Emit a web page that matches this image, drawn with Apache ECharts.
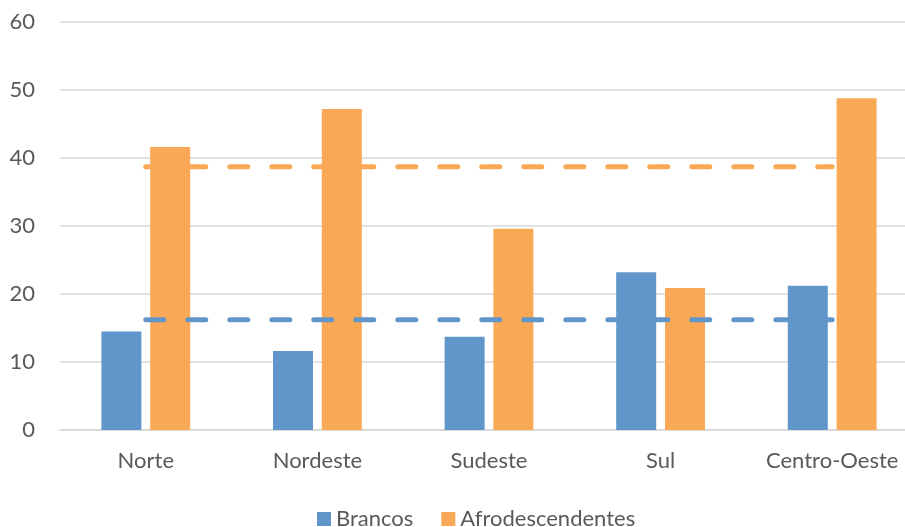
<!DOCTYPE html>
<html>
<head>
<meta charset="utf-8">
<script src="https://cdn.jsdelivr.net/npm/echarts@6/dist/echarts.min.js"></script>
<style>
  html, body { margin: 0; padding: 0; background: #ffffff; }
  #chart { width: 905px; height: 527px; }
</style>
</head>
<body>
<div id="chart"></div>
<script>
// Regions of Brazil
const categories = ['Norte', 'Nordeste', 'Sudeste', 'Sul', 'Centro-Oeste'];
// Percentages per group
const brancos = [14.5, 11.6, 13.7, 23.2, 21.2];
const afrodescendentes = [41.6, 47.2, 29.6, 20.9, 48.8];
// National averages, repeated for each region
const mediaBrancos = [16.2, 16.2, 16.2, 16.2, 16.2];
const mediaAfro = [38.7, 38.7, 38.7, 38.7, 38.7];
// Value axis ticks
const yTicks = [0, 10, 20, 30, 40, 50, 60];

const BLUE = '#6096c9';
const ORANGE = '#f9a856';
const TEXT = '#595959';
const FONT = 'Lato';
const FS = 22;

const chart = echarts.init(document.getElementById('chart'), null, { renderer: 'canvas' });

chart.setOption({
  animation: false,
  textStyle: { fontFamily: FONT },
  grid: {
    left: 60, top: 22, width: 858, height: 408,
    containLabel: false,
    outerBoundsMode: 'none'
  },
  legend: {
    data: ['Brancos', 'Afrodescendentes'],
    left: 312,
    top: 503,
    itemWidth: 14,
    itemHeight: 14,
    itemGap: 28,
    icon: 'rect',
    textStyle: { color: TEXT, fontSize: FS, fontFamily: FONT }
  },
  xAxis: {
    type: 'category',
    data: categories,
    axisLine: { show: true, lineStyle: { color: '#d9d9d9', width: 1.5 } },
    axisTick: { show: false },
    axisLabel: { color: TEXT, fontSize: FS, fontFamily: FONT, margin: 20, interval: 0, hideOverlap: false }
  },
  yAxis: {
    type: 'value',
    min: yTicks[0],
    max: yTicks[yTicks.length - 1],
    interval: 10,
    axisLine: { show: false },
    axisTick: { show: false },
    axisLabel: { color: TEXT, fontSize: FS, fontFamily: FONT, margin: 25 },
    splitLine: { lineStyle: { color: '#d9d9d9', width: 1.5 } }
  },
  series: [
    {
      name: 'Brancos',
      type: 'bar',
      data: brancos,
      barWidth: 40,
      barGap: '22%',
      itemStyle: { color: BLUE },
      z: 2
    },
    {
      name: 'Afrodescendentes',
      type: 'bar',
      data: afrodescendentes,
      barWidth: 40,
      barGap: '22%',
      itemStyle: { color: ORANGE },
      z: 2
    },
    {
      name: 'Média Afrodescendentes',
      type: 'line',
      data: mediaAfro,
      symbol: 'none',
      lineStyle: { color: ORANGE, width: 5, type: [18, 24], cap: 'round' },
      z: 3
    },
    {
      name: 'Média Brancos',
      type: 'line',
      data: mediaBrancos,
      symbol: 'none',
      lineStyle: { color: BLUE, width: 5, type: [18, 24], cap: 'round' },
      z: 3
    }
  ]
});
</script>
</body>
</html>
